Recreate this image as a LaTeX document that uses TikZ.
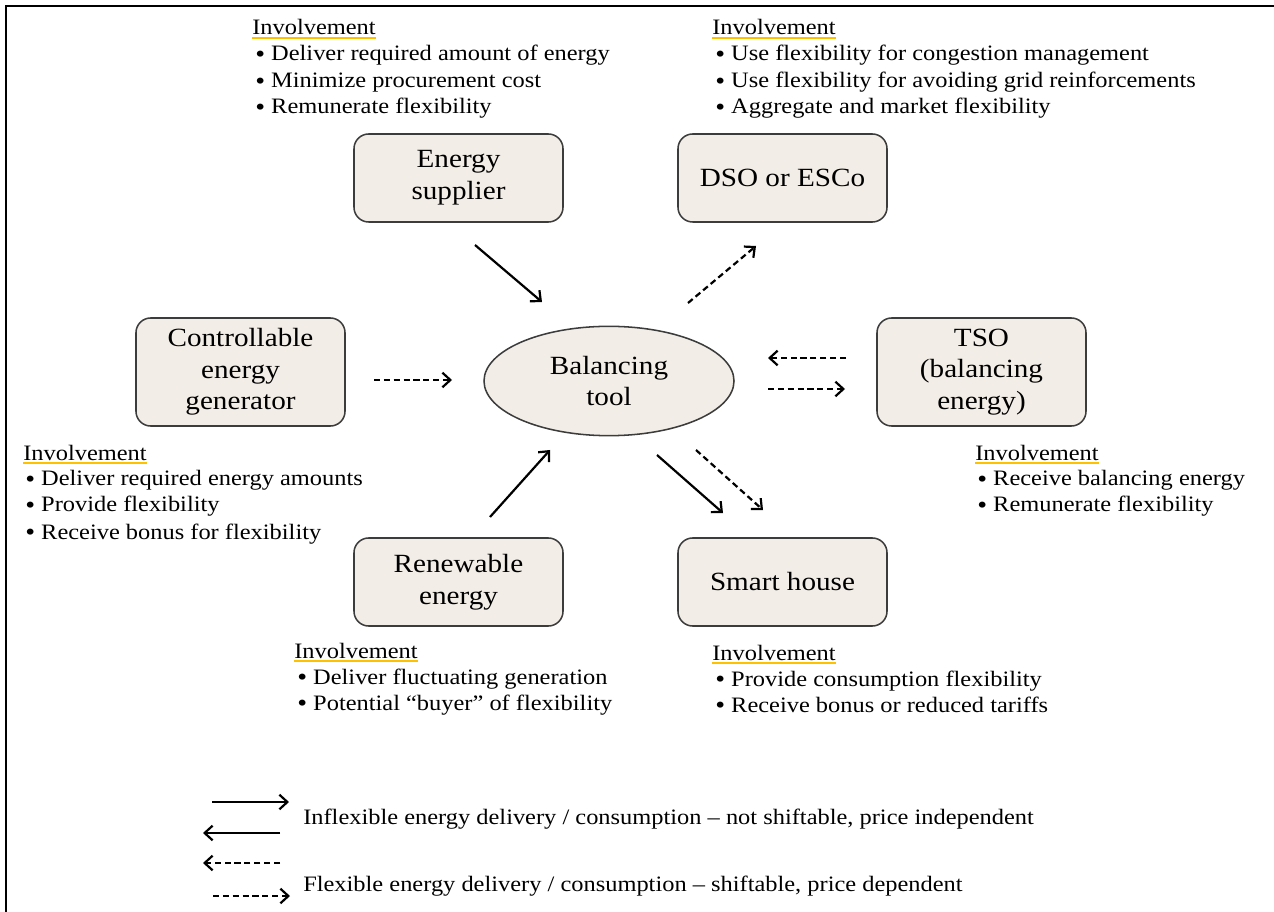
\documentclass[tikz,border=0pt]{standalone}
\usepackage{fontspec}
\setmainfont[FakeStretch=1.11]{Liberation Serif}
\usetikzlibrary{arrows.meta,shapes.geometric}
\definecolor{boxfill}{RGB}{242,237,230}
\definecolor{boxline}{RGB}{60,60,60}
\definecolor{ulcol}{RGB}{255,192,0}
\newcommand\mybul{{\fontsize{19}{19}\selectfont\raisebox{-0.9pt}{•}}}
\begin{document}
\begin{tikzpicture}[x=0.75pt,y=-0.75pt,
  actor/.style={draw=boxline,fill=boxfill,rounded corners=11pt,line width=1.15pt,
    minimum width=156.75pt,minimum height=66pt,align=center,inner sep=0pt,
    font=\fontsize{19.7}{23.7}\selectfont},
  hub/.style={ellipse,draw=boxline,fill=boxfill,line width=1.15pt,
    minimum width=187.5pt,minimum height=82pt,align=center,inner sep=0pt,
    font=\fontsize{19.7}{23.7}\selectfont},
  txt/.style={anchor=base west,inner sep=0pt,font=\fontsize{16.5}{20}\selectfont},
  ulin/.style={draw=ulcol,line width=1.5pt},
  flow/.style={line width=1.65pt,-{Straight Barb[length=6pt,width=11pt,line width=1.65pt]}},
  flex/.style={flow,dash pattern=on 4.6pt off 2.8pt}
]
\useasboundingbox (0,0) rectangle (1274,912);
\draw[line width=1.6pt] (6,912) -- (6,6) -- (1274,6);

% actors
\node[actor] (supplier) at (458.5,178) {Energy\\supplier};
\node[actor] (dso) at (782.5,178) {DSO or ESCo};
\node[actor,minimum height=81pt] (gen) at (240.5,372) {Controllable\\energy\\generator};
\node[actor,minimum height=81pt] (tso) at (981.5,372) {TSO\\(balancing\\energy)};
\node[actor] (ren) at (458.5,582) {Renewable\\energy};
\node[actor] (house) at (782.5,582) {Smart house};
\node[hub] (tool) at (609,381) {Balancing\\tool};

% connector end points
\coordinate (a1s) at (475,245); \coordinate (a1e) at (542,302);
\coordinate (a2s) at (688,303); \coordinate (a2e) at (756,246);
\coordinate (a3s) at (374,380); \coordinate (a3e) at (452,380);
\coordinate (a4s) at (846,358); \coordinate (a4e) at (768,358);
\coordinate (a5s) at (768,389); \coordinate (a5e) at (845,389);
\coordinate (a6s) at (490,517); \coordinate (a6e) at (550,450);
\coordinate (a7s) at (657,455); \coordinate (a7e) at (723,513);
\coordinate (a8s) at (696,450); \coordinate (a8e) at (763,510);
\draw[flow] (a1s) -- (a1e);
\draw[flex] (a2s) -- (a2e);
\draw[flex] (a3s) -- (a3e);
\draw[flex] (a4s) -- (a4e);
\draw[flex] (a5s) -- (a5e);
\draw[flow] (a6s) -- (a6e);
\draw[flow] (a7s) -- (a7e);
\draw[flex] (a8s) -- (a8e);

% involvement: energy supplier
\node[txt] (inv1) at (252,35) {Involvement};
\draw[ulin] ([yshift=-2.4pt]inv1.base west) -- ([yshift=-2.4pt]inv1.base east);
\node[txt] (s1) at (255,61) {\mybul\ Deliver required amount of energy};
\node[txt] (s2) at (255,88) {\mybul\ Minimize procurement cost};
\node[txt] (s3) at (255,114) {\mybul\ Remunerate flexibility};

% involvement: DSO
\node[txt] (inv2) at (712,35) {Involvement};
\draw[ulin] ([yshift=-2.4pt]inv2.base west) -- ([yshift=-2.4pt]inv2.base east);
\node[txt] (d1) at (715,61) {\mybul\ Use flexibility for congestion management};
\node[txt] (d2) at (715,88) {\mybul\ Use flexibility for avoiding grid reinforcements};
\node[txt] (d3) at (715,114) {\mybul\ Aggregate and market flexibility};

% involvement: generator
\node[txt] (inv3) at (23,460) {Involvement};
\draw[ulin] ([yshift=-2.4pt]inv3.base west) -- ([yshift=-2.4pt]inv3.base east);
\node[txt] (g1) at (25,486) {\mybul\ Deliver required energy amounts};
\node[txt] (g2) at (25,512) {\mybul\ Provide flexibility};
\node[txt] (g3) at (25,539) {\mybul\ Receive bonus for flexibility};

% involvement: TSO
\node[txt] (inv4) at (975,460) {Involvement};
\draw[ulin] ([yshift=-2.4pt]inv4.base west) -- ([yshift=-2.4pt]inv4.base east);
\node[txt] (t1) at (977,486) {\mybul\ Receive balancing energy};
\node[txt] (t2) at (977,512) {\mybul\ Remunerate flexibility};

% involvement: renewable
\node[txt] (inv5) at (294,658) {Involvement};
\draw[ulin] ([yshift=-2.4pt]inv5.base west) -- ([yshift=-2.4pt]inv5.base east);
\node[txt] (r1) at (297,684) {\mybul\ Deliver fluctuating generation};
\node[txt] (r2) at (297,710) {\mybul\ Potential “buyer” of flexibility};

% involvement: smart house
\node[txt] (inv6) at (712,660) {Involvement};
\draw[ulin] ([yshift=-2.4pt]inv6.base west) -- ([yshift=-2.4pt]inv6.base east);
\node[txt] (h1) at (715,686) {\mybul\ Provide consumption flexibility};
\node[txt] (h2) at (715,712) {\mybul\ Receive bonus or reduced tariffs};

% legend
\coordinate (l1s) at (212,802); \coordinate (l1e) at (289,802);
\coordinate (l2s) at (280,833); \coordinate (l2e) at (203,833);
\coordinate (l3s) at (280,863); \coordinate (l3e) at (203,863);
\coordinate (l4s) at (213,896); \coordinate (l4e) at (290,896);
\draw[flow] (l1s) -- (l1e);
\draw[flow] (l2s) -- (l2e);
\draw[flex] (l3s) -- (l3e);
\draw[flex] (l4s) -- (l4e);
\node[txt] (leg1) at (303,824) {Inflexible energy delivery / consumption – not shiftable, price independent};
\node[txt] (leg2) at (303,891) {Flexible energy delivery / consumption – shiftable, price dependent};
\end{tikzpicture}
\end{document}
